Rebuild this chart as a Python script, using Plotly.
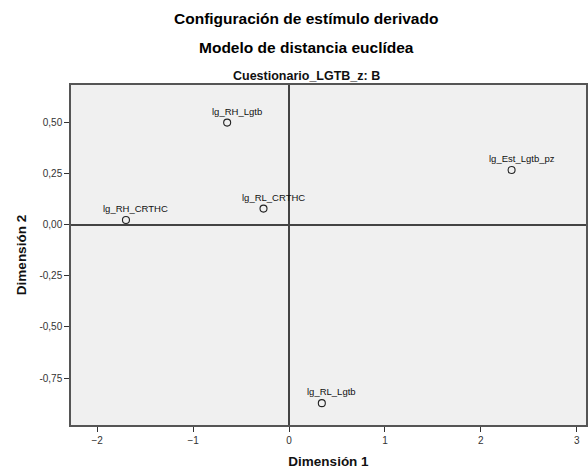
import plotly.graph_objects as go

# Derived stimulus coordinates (Euclidean distance model)
stimuli = ["lg_RH_Lgtb", "lg_RH_CRTHC", "lg_RL_CRTHC", "lg_Est_Lgtb_pz", "lg_RL_Lgtb"]
dim1 = [-0.645, -1.70, -0.266, 2.32, 0.342]
dim2 = [0.50, 0.023, 0.079, 0.268, -0.873]

x_ticks = [-2, -1, 0, 1, 2, 3]
y_ticks = [0.50, 0.25, 0.00, -0.25, -0.50, -0.75]
y_ticklabels = ["0,50", "0,25", "0,00", "-0,25", "-0,50", "-0,75"]

FONT = "Liberation Sans, Arial, sans-serif"
NARROW = "Liberation Sans Narrow, Arial Narrow, Liberation Sans, sans-serif"
AXIS_COLOR = "#555555"
TITLE_X = 0.4565  # title block centre, in plot-area fraction

fig = go.Figure()

fig.add_trace(go.Scatter(
    x=dim1, y=dim2, mode="markers",
    marker=dict(symbol="circle-open", size=7, color="#222222", line=dict(width=1.1)),
    hoverinfo="text", text=stimuli, showlegend=False,
))

# Point labels placed just above each marker
for name, xv, yv in zip(stimuli, dim1, dim2):
    fig.add_annotation(
        x=xv, y=yv, text=name, showarrow=False,
        xanchor="center", yanchor="bottom", xshift=10, yshift=4,
        font=dict(family=FONT, size=9.5, color="#111111"),
    )

# Titles
fig.add_annotation(text="<b>Configuración de estímulo derivado</b>", xref="paper", yref="paper",
                   x=TITLE_X, y=1, yshift=66.5, xanchor="center", yanchor="middle",
                   showarrow=False, font=dict(family=FONT, size=15.5, color="#000000"))
fig.add_annotation(text="<b>Modelo de distancia euclídea</b>", xref="paper", yref="paper",
                   x=TITLE_X, y=1, yshift=38, xanchor="center", yanchor="middle",
                   showarrow=False, font=dict(family=FONT, size=15.5, color="#000000"))
fig.add_annotation(text="<b>Cuestionario_LGTB_z: B</b>", xref="paper", yref="paper",
                   x=TITLE_X, y=1, yshift=9, xanchor="center", yanchor="middle",
                   showarrow=False, font=dict(family=NARROW, size=12.5, color="#111111"))

axis_common = dict(
    showgrid=False, zeroline=True, zerolinecolor="#444444", zerolinewidth=1.6,
    showline=True, linecolor=AXIS_COLOR, linewidth=1.5, mirror=True,
    ticks="outside", ticklen=5, tickcolor="#333333", tickwidth=1,
    tickfont=dict(family=FONT, size=10, color="#333333"),
)

fig.update_xaxes(
    range=[-2.273, 3.096], tickvals=x_ticks,
    title=dict(text="<b>Dimensión 1</b>", font=dict(family=FONT, size=13.5, color="#111111"), standoff=12),
    **axis_common,
)
fig.update_yaxes(
    range=[-0.980, 0.684], tickvals=y_ticks, ticktext=y_ticklabels,
    title=dict(text="<b>Dimensión 2</b>", font=dict(family=FONT, size=13.5, color="#111111"), standoff=10),
    **axis_common,
)

fig.update_layout(
    width=588, height=471,
    margin=dict(l=71, r=0, t=85, b=46),
    plot_bgcolor="#f0f0f0", paper_bgcolor="white",
    font=dict(family=FONT),
)

fig.write_html("out.html")
